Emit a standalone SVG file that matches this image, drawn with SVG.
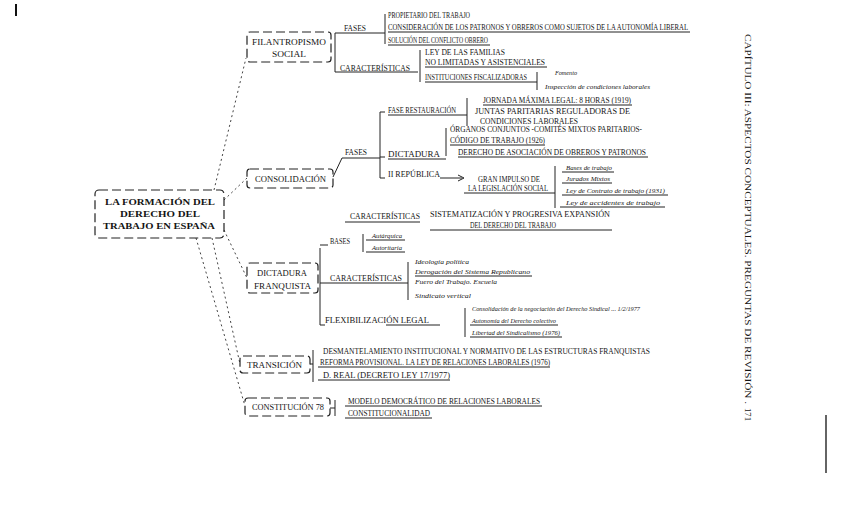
<svg xmlns="http://www.w3.org/2000/svg" width="848" height="512" viewBox="0 0 848 512">
<style>
.t{font-family:"Liberation Serif","DejaVu Serif",serif;font-size:7.5px;fill:#141414}
.i{font-style:italic;font-size:6.5px}
.b{font-weight:bold}
.box{fill:none;stroke:#222;stroke-width:1.2;stroke-dasharray:9 4}
.ln{stroke:#222;stroke-width:1;fill:none}
.dl{stroke:#444;stroke-width:1;stroke-dasharray:2 3;fill:none}
</style>
<rect width="848" height="512" fill="#fff"/>

<g id="connectors">
  <path class="dl" d="M214 190 L246 58"/>
  <path class="dl" d="M224 200 L247 178"/>
  <path class="dl" d="M224 230 L247 278"/>
  <path class="dl" d="M212 238 L240 364"/>
  <path class="dl" d="M196 238 L245 406"/>
  <path class="ln" d="M335 33 V72 M335 33 H385 M385 14 V44 M335 72 H418 M420 50 V82 M537 72 V90"/>
  <path class="ln" d="M333 177 L342 158 M342 158 H380 M380 112 V178 M380 112 H385 M467 98 V126 M380 157 H385 M446 128 V156 M380 178 H385"/>
  <path class="ln" d="M440 178 H462"/>
  <path class="ln" d="M458 175 L464 178 L458 181"/>
  <path class="ln" d="M555 166 V208"/>
  <path class="ln" d="M345 222 H420"/>
  <path class="ln" d="M320 248 V325 M320 245 H328 M363 234 V252 M320 283 H408 M408 262 V300 M320 325 H325 M465 308 V337"/>
  <path class="ln" d="M313 350 V382 M310 364 H313"/>
  <path class="ln" d="M335 400 V416 M330 408 H335"/>
</g>

<g id="root">
  <rect class="box" x="95" y="190" width="129" height="48" rx="4"/>
  <text class="t b" x="105" y="205" font-size="10.5" textLength="110" lengthAdjust="spacingAndGlyphs">LA FORMACIÓN DEL</text>
  <text class="t b" x="120" y="217" font-size="10.5" textLength="80" lengthAdjust="spacingAndGlyphs">DERECHO DEL</text>
  <text class="t b" x="103" y="229" font-size="10.5" textLength="112" lengthAdjust="spacingAndGlyphs">TRABAJO EN ESPAÑA</text>
</g>

<g id="filantropismo">
  <rect class="box" x="247" y="32" width="84" height="30" rx="3"/>
  <text class="t" x="252" y="45" font-size="9" textLength="74" lengthAdjust="spacingAndGlyphs">FILANTROPISMO</text>
  <text class="t" x="272" y="57" font-size="9" textLength="34" lengthAdjust="spacingAndGlyphs">SOCIAL</text>
  <text class="t" x="344" y="31" textLength="22" lengthAdjust="spacingAndGlyphs">FASES</text>
  <text class="t" x="388" y="18" textLength="82" lengthAdjust="spacingAndGlyphs">PROPIETARIO DEL TRABAJO</text>
  <text class="t" x="388" y="30" textLength="300" lengthAdjust="spacingAndGlyphs">CONSIDERACIÓN DE LOS PATRONOS Y OBREROS COMO SUJETOS DE LA AUTONOMÍA LIBERAL</text>
  <path class="ln" d="M388 32 H690"/>
  <text class="t" x="388" y="43" textLength="100" lengthAdjust="spacingAndGlyphs">SOLUCIÓN DEL CONFLICTO OBRERO</text>
  <path class="ln" d="M388 45 H490"/>
  <text class="t" x="340" y="71" textLength="70" lengthAdjust="spacingAndGlyphs">CARACTERÍSTICAS</text>
  <text class="t" x="425" y="55" textLength="80" lengthAdjust="spacingAndGlyphs">LEY DE LAS FAMILIAS</text>
  <text class="t" x="425" y="65" textLength="120" lengthAdjust="spacingAndGlyphs">NO LIMITADAS Y ASISTENCIALES</text>
  <path class="ln" d="M425 67 H547"/>
  <text class="t" x="425" y="80" textLength="102" lengthAdjust="spacingAndGlyphs">INSTITUCIONES FISCALIZADORAS</text>
  <path class="ln" d="M425 82 H537"/>
  <text class="t i" x="555" y="75" textLength="22" lengthAdjust="spacingAndGlyphs">Fomento</text>
  <text class="t i" x="545" y="89" textLength="105" lengthAdjust="spacingAndGlyphs">Inspección de condiciones laborales</text>
</g>

<g id="consolidacion">
  <rect class="box" x="247" y="169" width="86" height="19" rx="3"/>
  <text class="t" x="255" y="182" font-size="9" textLength="71" lengthAdjust="spacingAndGlyphs">CONSOLIDACIÓN</text>
  <text class="t" x="345" y="155" textLength="22" lengthAdjust="spacingAndGlyphs">FASES</text>
  <text class="t" x="388" y="113" textLength="68" lengthAdjust="spacingAndGlyphs">FASE RESTAURACIÓN</text>
  <path class="ln" d="M388 115 H467"/>
  <text class="t" x="483" y="103" textLength="148" lengthAdjust="spacingAndGlyphs">JORNADA MÁXIMA LEGAL: 8 HORAS (1919)</text>
  <path class="ln" d="M483 105 H632"/>
  <text class="t" x="475" y="114" textLength="155" lengthAdjust="spacingAndGlyphs">JUNTAS PARITARIAS REGULADORAS DE</text>
  <text class="t" x="480" y="124" textLength="98" lengthAdjust="spacingAndGlyphs">CONDICIONES LABORALES</text>
  <text class="t" x="388" y="157" textLength="52" lengthAdjust="spacingAndGlyphs">DICTADURA</text>
  <path class="ln" d="M388 159 H446"/>
  <text class="t" x="450" y="132" textLength="192" lengthAdjust="spacingAndGlyphs">ÓRGANOS CONJUNTOS -COMITÉS MIXTOS PARITARIOS-</text>
  <text class="t" x="450" y="143" textLength="95" lengthAdjust="spacingAndGlyphs">CÓDIGO DE TRABAJO (1926)</text>
  <path class="ln" d="M450 145 H545"/>
  <text class="t" x="458" y="155" textLength="188" lengthAdjust="spacingAndGlyphs">DERECHO DE ASOCIACIÓN DE OBREROS Y PATRONOS</text>
  <path class="ln" d="M458 157 H648"/>
  <text class="t" x="388" y="177" textLength="52" lengthAdjust="spacingAndGlyphs">II REPÚBLICA</text>
  <text class="t" x="478" y="182" textLength="62" lengthAdjust="spacingAndGlyphs">GRAN IMPULSO DE</text>
  <text class="t" x="468" y="191" textLength="80" lengthAdjust="spacingAndGlyphs">LA LEGISLACIÓN SOCIAL</text>
  <path class="ln" d="M464 193 H555"/>
  <text class="t i" x="566" y="170" textLength="46" lengthAdjust="spacingAndGlyphs">Bases de trabajo</text>
  <path class="ln" d="M562 172 H614"/>
  <text class="t i" x="566" y="181" textLength="44" lengthAdjust="spacingAndGlyphs">Jurados Mixtos</text>
  <path class="ln" d="M562 183 H612"/>
  <text class="t i" x="566" y="193" textLength="99" lengthAdjust="spacingAndGlyphs">Ley de Contrato de trabajo (1931)</text>
  <path class="ln" d="M562 195 H668"/>
  <text class="t i" x="566" y="205" textLength="94" lengthAdjust="spacingAndGlyphs">Ley de accidentes de trabajo</text>
  <path class="ln" d="M560 207 H665"/>
  <text class="t" x="350" y="219" textLength="70" lengthAdjust="spacingAndGlyphs">CARACTERÍSTICAS</text>
  <text class="t" x="430" y="217" textLength="180" lengthAdjust="spacingAndGlyphs">SISTEMATIZACIÓN Y PROGRESIVA EXPANSIÓN</text>
  <text class="t" x="470" y="228" textLength="86" lengthAdjust="spacingAndGlyphs">DEL DERECHO DEL TRABAJO</text>
  <path class="ln" d="M430 230 H612"/>
</g>

<g id="dictadura">
  <rect class="box" x="247" y="263" width="71" height="30" rx="3"/>
  <text class="t" x="257" y="276" font-size="9" textLength="50" lengthAdjust="spacingAndGlyphs">DICTADURA</text>
  <text class="t" x="254" y="289" font-size="9" textLength="57" lengthAdjust="spacingAndGlyphs">FRANQUISTA</text>
  <text class="t" x="330" y="244" textLength="20" lengthAdjust="spacingAndGlyphs">BASES</text>
  <text class="t i" x="372" y="238" textLength="30" lengthAdjust="spacingAndGlyphs">Autárquica</text>
  <path class="ln" d="M366 240 H405"/>
  <text class="t i" x="372" y="250" textLength="30" lengthAdjust="spacingAndGlyphs">Autoritaria</text>
  <path class="ln" d="M366 252 H405"/>
  <text class="t" x="330" y="281" textLength="72" lengthAdjust="spacingAndGlyphs">CARACTERÍSTICAS</text>
  <text class="t i" x="415" y="264" textLength="54" lengthAdjust="spacingAndGlyphs">Ideología política</text>
  <text class="t i" x="415" y="274" textLength="115" lengthAdjust="spacingAndGlyphs">Derogación del Sistema Republicano</text>
  <path class="ln" d="M415 276 H532"/>
  <text class="t i" x="415" y="284" textLength="82" lengthAdjust="spacingAndGlyphs">Fuero del Trabajo. Escuela</text>
  <text class="t i" x="415" y="298" textLength="56" lengthAdjust="spacingAndGlyphs">Sindicato vertical</text>
  <text class="t" x="325" y="323" textLength="104" lengthAdjust="spacingAndGlyphs">FLEXIBILIZACIÓN LEGAL</text>
  <path class="ln" d="M386 325 H440"/>
  <text class="t i" x="472" y="311" textLength="168" lengthAdjust="spacingAndGlyphs">Consolidación de la negociación del Derecho Sindical ... 1/2/1977</text>
  <text class="t i" x="472" y="323" textLength="84" lengthAdjust="spacingAndGlyphs">Autonomía del Derecho colectivo</text>
  <path class="ln" d="M470 325 H558"/>
  <text class="t i" x="472" y="335" textLength="88" lengthAdjust="spacingAndGlyphs">Libertad del Sindicalismo (1976)</text>
  <path class="ln" d="M470 337 H562"/>
</g>

<g id="transicion">
  <rect class="box" x="240" y="356" width="70" height="17" rx="3"/>
  <text class="t" x="247" y="368" font-size="9" textLength="55" lengthAdjust="spacingAndGlyphs">TRANSICIÓN</text>
  <text class="t" x="323" y="354" textLength="327" lengthAdjust="spacingAndGlyphs">DESMANTELAMIENTO INSTITUCIONAL Y NORMATIVO DE LAS ESTRUCTURAS FRANQUISTAS</text>
  <path class="ln" d="M318 367 H550"/>
  <text class="t" x="320" y="365" textLength="230" lengthAdjust="spacingAndGlyphs">REFORMA PROVISIONAL. LA LEY DE RELACIONES LABORALES (1976)</text>
  <text class="t" x="323" y="378" textLength="127" lengthAdjust="spacingAndGlyphs">D. REAL (DECRETO LEY 17/1977)</text>
  <path class="ln" d="M318 380 H450"/>
</g>

<g id="constitucion">
  <rect class="box" x="245" y="398" width="85" height="18" rx="3"/>
  <text class="t" x="252" y="410" font-size="9" textLength="72" lengthAdjust="spacingAndGlyphs">CONSTITUCIÓN 78</text>
  <text class="t" x="348" y="404" textLength="192" lengthAdjust="spacingAndGlyphs">MODELO DEMOCRÁTICO DE RELACIONES LABORALES</text>
  <path class="ln" d="M345 406 H542"/>
  <text class="t" x="348" y="416" textLength="82" lengthAdjust="spacingAndGlyphs">CONSTITUCIONALIDAD</text>
  <path class="ln" d="M345 418 H432"/>
</g>

<g id="page">
  <text class="t" transform="translate(745,34) rotate(90)" font-size="9.5" textLength="370" lengthAdjust="spacingAndGlyphs">CAPÍTULO III: ASPECTOS CONCEPTUALES. PREGUNTAS DE REVISIÓN .</text>
  <text class="t" transform="translate(745,408) rotate(90)" font-size="9.5" textLength="13" lengthAdjust="spacingAndGlyphs">171</text>
  <path d="M826 415 V473" stroke="#111" stroke-width="1.3"/>
  <path d="M16 4 V16" stroke="#111" stroke-width="2"/>
</g>
</svg>
